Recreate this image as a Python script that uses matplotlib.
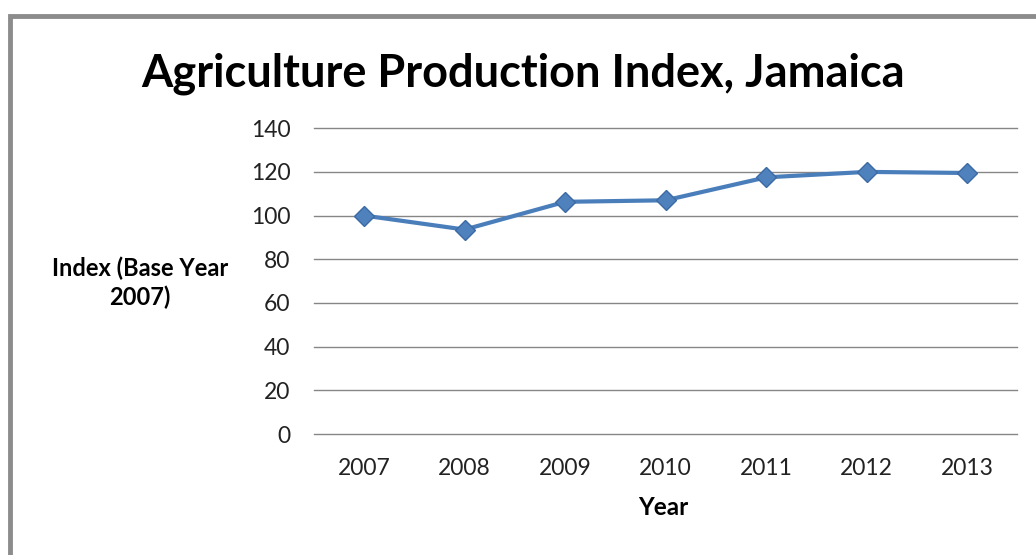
import matplotlib.pyplot as plt
from matplotlib.patches import Rectangle

years = ['2007', '2008', '2009', '2010', '2011', '2012', '2013']
index_values = [100, 93.6, 106.3, 107, 117.5, 120, 119.5]
y_ticks = [0, 20, 40, 60, 80, 100, 120, 140]

plt.rcParams['font.family'] = ['Lato', 'DejaVu Sans']

fig = plt.figure(figsize=(10.36, 5.55), dpi=100)

# cadre gris autour du graphique
fig.patches.append(Rectangle((0.010, -0.05), 1.1, 1.022, transform=fig.transFigure,
                             fill=False, edgecolor='#8c8c8c', linewidth=3.5))

ax = fig.add_axes([0.303, 0.218, 0.679, 0.551])
x = range(len(years))
ax.plot(x, index_values, color='#4A7EBB', linewidth=3, marker='D',
        markersize=10, markerfacecolor='#4F81BD', markeredgecolor='#3C6AA5')

ax.set_xlim(-0.5, len(years) - 0.5)
ax.set_ylim(0, 140)
ax.set_yticks(y_ticks)
ax.set_xticks(list(x))
ax.set_xticklabels(years)
ax.grid(axis='y', color='#868686', linewidth=1)
for line in ax.get_ygridlines():
    line.set_clip_on(False)
ax.set_axisbelow(True)
for s in ax.spines.values():
    s.set_visible(False)
ax.tick_params(length=0, labelsize=16.5, colors='#222222')
ax.tick_params(axis='x', pad=17)
ax.tick_params(axis='y', pad=17)

fig.text(0.505, 0.868, 'Agriculture Production Index, Jamaica', ha='center', va='center',
         fontsize=32.5, fontweight='bold')
fig.text(0.135, 0.49, 'Index (Base Year\n2007)', ha='center', va='center',
         fontsize=17, fontweight='bold', linespacing=1.3)
fig.text(0.640, 0.085, 'Year', ha='center', va='center', fontsize=17.5, fontweight='bold')

fig.savefig('out.png', dpi=100)
